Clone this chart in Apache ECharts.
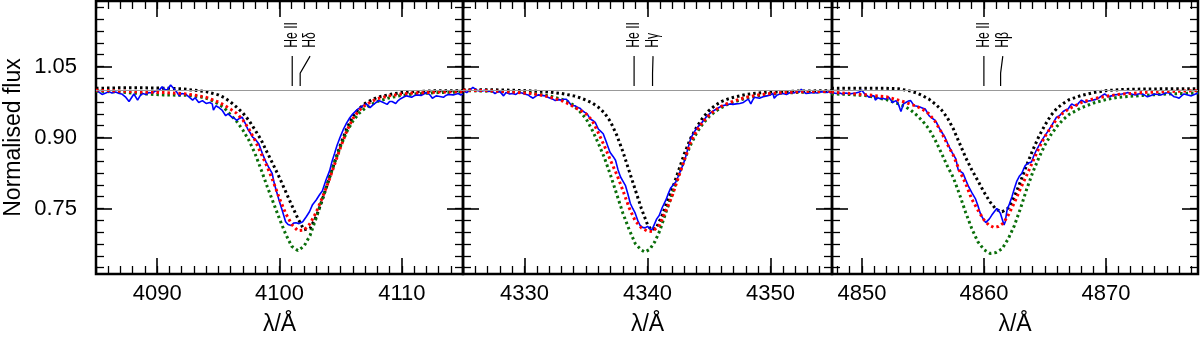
<!DOCTYPE html>
<html>
<head>
<meta charset="utf-8">
<script src="https://cdn.jsdelivr.net/npm/echarts@6.0.0/dist/echarts.min.js"></script>
<style>
  html, body { margin: 0; padding: 0; background: #fff; }
  #chart { width: 1200px; height: 341px; }
</style>
</head>
<body>
<div id="chart"></div>
<script>
// ---- data (wavelength in Angstrom, normalised flux) ----

// panel 1: H delta
const p1Obs = [[4085.0,1.000],[4085.3,0.995],[4085.5,0.991],[4085.8,0.994],[4086.05,0.997],[4086.3,0.994],[4086.6,0.996],[4086.9,0.993],[4087.1,0.992],[4087.4,0.986],[4087.7,0.976],[4087.9,0.984],[4088.1,0.992],[4088.4,0.979],[4088.6,0.988],[4088.8,0.993],[4089.1,0.991],[4089.3,0.995],[4089.6,0.994],[4089.9,0.999],[4090.1,0.998],[4090.4,1.007],[4090.6,1.002],[4090.8,1.000],[4091.1,1.011],[4091.4,1.002],[4091.6,0.996],[4091.8,0.988],[4092.0,0.993],[4092.3,0.992],[4092.6,0.986],[4092.9,0.979],[4093.1,0.984],[4093.4,0.974],[4093.7,0.978],[4094.0,0.972],[4094.3,0.974],[4094.5,0.971],[4094.6,0.958],[4094.8,0.967],[4095.0,0.964],[4095.3,0.958],[4095.6,0.946],[4095.8,0.950],[4096.1,0.943],[4096.3,0.941],[4096.5,0.936],[4096.7,0.940],[4096.95,0.943],[4097.2,0.930],[4097.4,0.918],[4097.6,0.910],[4097.8,0.901],[4098.0,0.897],[4098.3,0.887],[4098.6,0.866],[4098.9,0.848],[4099.1,0.838],[4099.4,0.824],[4099.6,0.800],[4099.8,0.782],[4100.0,0.764],[4100.2,0.748],[4100.5,0.722],[4100.7,0.716],[4100.95,0.714],[4101.15,0.719],[4101.35,0.720],[4101.6,0.718],[4101.9,0.722],[4102.2,0.733],[4102.45,0.743],[4102.7,0.758],[4103.0,0.768],[4103.3,0.780],[4103.5,0.787],[4103.8,0.810],[4104.1,0.830],[4104.3,0.850],[4104.5,0.866],[4104.7,0.883],[4104.9,0.897],[4105.2,0.916],[4105.45,0.929],[4105.7,0.940],[4106.0,0.950],[4106.4,0.960],[4106.8,0.967],[4107.1,0.971],[4107.4,0.963],[4107.6,0.968],[4107.8,0.972],[4108.1,0.978],[4108.4,0.975],[4108.8,0.970],[4109.0,0.976],[4109.2,0.976],[4109.5,0.972],[4109.7,0.978],[4109.9,0.982],[4110.2,0.986],[4110.4,0.988],[4110.8,0.985],[4111.0,0.988],[4111.2,0.990],[4111.6,0.989],[4111.8,0.992],[4112.0,0.995],[4112.3,0.990],[4112.5,0.983],[4112.8,0.988],[4113.0,0.987],[4113.4,0.985],[4113.6,0.989],[4113.8,0.991],[4114.2,0.990],[4114.6,0.993],[4114.8,0.990],[4115.0,0.992]];
const p1Black = [[4085,1.004],[4087,1.005],[4089,1.005],[4091,1.004],[4092,1.003],[4093,1.000],[4094,0.997],[4095,0.990],[4095.5,0.984],[4096,0.975],[4096.5,0.964],[4097,0.952],[4097.5,0.936],[4098,0.916],[4098.5,0.895],[4099,0.868],[4099.5,0.842],[4100,0.815],[4100.5,0.786],[4101,0.757],[4101.5,0.729],[4102,0.705],[4102.5,0.708],[4103,0.733],[4103.5,0.768],[4104,0.808],[4104.5,0.848],[4105,0.886],[4105.5,0.919],[4106,0.945],[4106.5,0.961],[4107,0.972],[4107.5,0.979],[4108,0.985],[4109,0.991],[4110,0.995],[4111,0.997],[4112,0.998],[4113,0.999],[4115,0.999]];
const p1Red = [[4085,1.000],[4087,0.998],[4089,0.996],[4090.5,0.995],[4092,0.993],[4093,0.990],[4094,0.985],[4095,0.975],[4095.5,0.968],[4096,0.960],[4096.5,0.951],[4097,0.937],[4097.5,0.918],[4098,0.894],[4098.5,0.866],[4099,0.838],[4099.5,0.806],[4100,0.771],[4100.5,0.740],[4101,0.716],[4101.5,0.703],[4102,0.704],[4102.5,0.718],[4103,0.742],[4103.5,0.773],[4104,0.806],[4104.5,0.843],[4105,0.880],[4105.5,0.914],[4106,0.940],[4106.5,0.957],[4107,0.968],[4107.5,0.976],[4108,0.982],[4109,0.988],[4110,0.992],[4111,0.994],[4113,0.996],[4115,0.997]];
const p1Green = [[4085,0.998],[4087,0.996],[4089,0.992],[4090.5,0.990],[4092.5,0.989],[4093.5,0.986],[4094,0.983],[4094.5,0.978],[4095,0.971],[4095.5,0.962],[4096,0.948],[4096.5,0.934],[4097,0.916],[4097.5,0.894],[4098,0.866],[4098.5,0.832],[4099,0.796],[4099.5,0.762],[4100,0.728],[4100.5,0.696],[4101,0.670],[4101.5,0.661],[4102,0.670],[4102.5,0.693],[4103,0.730],[4103.5,0.770],[4104,0.809],[4104.5,0.847],[4105,0.882],[4105.5,0.912],[4106,0.935],[4106.5,0.951],[4107,0.962],[4107.5,0.970],[4108,0.976],[4109,0.984],[4110,0.989],[4111,0.992],[4113,0.995],[4115,0.996]];

// panel 2: H gamma
const p2Obs = [[4325.0,0.999],[4325.3,0.995],[4325.6,1.001],[4325.8,1.006],[4326.0,1.002],[4326.2,0.999],[4326.5,0.998],[4326.8,1.000],[4327.1,0.997],[4327.3,0.999],[4327.6,0.993],[4327.8,0.996],[4328.0,0.997],[4328.3,0.988],[4328.5,0.995],[4328.8,0.992],[4329.0,0.993],[4329.3,0.991],[4329.5,0.995],[4329.8,0.994],[4330.0,0.992],[4330.3,0.990],[4330.5,0.986],[4330.7,0.983],[4330.9,0.987],[4331.1,0.990],[4331.4,0.989],[4331.7,0.988],[4331.9,0.985],[4332.1,0.983],[4332.3,0.981],[4332.5,0.978],[4332.8,0.980],[4333.0,0.979],[4333.2,0.981],[4333.4,0.981],[4333.6,0.975],[4333.85,0.967],[4334.1,0.967],[4334.3,0.964],[4334.5,0.962],[4334.7,0.957],[4334.9,0.953],[4335.1,0.950],[4335.35,0.939],[4335.55,0.936],[4335.75,0.932],[4336.0,0.918],[4336.2,0.913],[4336.4,0.908],[4336.7,0.887],[4336.95,0.869],[4337.2,0.860],[4337.4,0.852],[4337.6,0.832],[4337.8,0.817],[4338.0,0.808],[4338.2,0.799],[4338.4,0.781],[4338.6,0.761],[4338.8,0.750],[4339.0,0.740],[4339.2,0.725],[4339.4,0.714],[4339.6,0.710],[4339.8,0.709],[4340.0,0.712],[4340.15,0.708],[4340.35,0.704],[4340.55,0.716],[4340.75,0.728],[4340.95,0.735],[4341.2,0.752],[4341.5,0.768],[4341.7,0.782],[4341.9,0.794],[4342.1,0.800],[4342.3,0.806],[4342.5,0.818],[4342.7,0.831],[4342.9,0.843],[4343.1,0.859],[4343.3,0.878],[4343.5,0.897],[4343.7,0.907],[4343.95,0.918],[4344.15,0.924],[4344.35,0.929],[4344.55,0.936],[4344.76,0.943],[4344.95,0.948],[4345.17,0.953],[4345.4,0.957],[4345.6,0.960],[4345.85,0.964],[4346.1,0.967],[4346.4,0.969],[4346.7,0.971],[4346.95,0.970],[4347.2,0.971],[4347.5,0.972],[4347.8,0.974],[4348.0,0.978],[4348.2,0.981],[4348.4,0.971],[4348.55,0.979],[4348.7,0.985],[4348.9,0.984],[4349.1,0.983],[4349.4,0.986],[4349.7,0.988],[4350.0,0.990],[4350.2,0.993],[4350.3,0.983],[4350.5,0.989],[4350.75,0.992],[4351.0,0.993],[4351.3,0.991],[4351.6,0.995],[4351.9,0.994],[4352.1,0.997],[4352.35,0.996],[4352.5,1.002],[4352.7,0.996],[4352.9,0.993],[4353.2,0.994],[4353.5,0.995],[4353.8,0.994],[4354.0,0.997],[4354.3,0.996],[4354.6,0.995],[4354.8,0.997],[4355.0,0.992]];
const p2Black = [[4325,1.001],[4327,1.001],[4329,1.000],[4331,0.998],[4332,0.996],[4333,0.993],[4334,0.988],[4334.5,0.984],[4335,0.979],[4335.5,0.973],[4336,0.964],[4336.5,0.952],[4337,0.933],[4337.5,0.905],[4338,0.870],[4338.5,0.830],[4339,0.790],[4339.5,0.750],[4340,0.716],[4340.3,0.705],[4340.7,0.708],[4341.2,0.736],[4341.6,0.765],[4342,0.790],[4342.5,0.828],[4343,0.866],[4343.5,0.898],[4344,0.922],[4344.5,0.942],[4345,0.957],[4345.5,0.968],[4346,0.976],[4346.5,0.981],[4347,0.985],[4348,0.991],[4349,0.994],[4350,0.996],[4352,0.998],[4355,0.999]];
const p2Red = [[4325,1.000],[4327,0.999],[4329,0.996],[4330.5,0.993],[4331.5,0.989],[4332.5,0.982],[4333,0.978],[4333.5,0.972],[4334,0.965],[4334.5,0.958],[4335,0.950],[4335.5,0.936],[4336,0.910],[4336.5,0.882],[4337,0.851],[4337.5,0.822],[4338,0.788],[4338.5,0.752],[4339,0.724],[4339.5,0.709],[4340,0.702],[4340.4,0.701],[4341,0.716],[4341.5,0.746],[4342,0.776],[4342.5,0.815],[4343,0.853],[4343.5,0.889],[4344,0.915],[4344.5,0.933],[4345,0.947],[4345.5,0.958],[4346,0.966],[4346.5,0.972],[4347,0.977],[4347.5,0.981],[4348,0.985],[4349,0.990],[4350,0.993],[4351,0.995],[4353,0.997],[4355,0.997]];
const p2Green = [[4325,0.999],[4327,0.998],[4329,0.996],[4330.5,0.994],[4332,0.988],[4333,0.981],[4333.5,0.976],[4334,0.968],[4334.5,0.955],[4335,0.940],[4335.5,0.916],[4336,0.888],[4336.5,0.857],[4337,0.820],[4337.5,0.780],[4338,0.740],[4338.5,0.706],[4339,0.676],[4339.5,0.662],[4339.8,0.658],[4340.2,0.664],[4340.6,0.680],[4341,0.703],[4341.5,0.742],[4342,0.780],[4342.5,0.818],[4343,0.853],[4343.5,0.884],[4344,0.910],[4344.5,0.929],[4345,0.944],[4345.5,0.955],[4346,0.963],[4346.5,0.970],[4347,0.975],[4347.5,0.979],[4348,0.983],[4349,0.988],[4350,0.992],[4351,0.994],[4353,0.996],[4355,0.997]];

// panel 3: H beta
const p3Obs = [[4847.55,0.995],[4847.9,0.993],[4848.2,0.994],[4848.4,0.992],[4848.7,0.994],[4849.0,0.992],[4849.2,0.993],[4849.5,0.994],[4849.8,0.996],[4850.0,1.000],[4850.2,0.993],[4850.4,0.989],[4850.6,0.985],[4850.8,0.988],[4851.0,0.988],[4851.1,0.979],[4851.3,0.984],[4851.5,0.982],[4851.7,0.983],[4851.95,0.981],[4852.2,0.985],[4852.35,0.980],[4852.5,0.974],[4852.65,0.978],[4852.8,0.978],[4853.0,0.970],[4853.2,0.955],[4853.4,0.971],[4853.6,0.974],[4853.8,0.977],[4854.0,0.978],[4854.15,0.972],[4854.3,0.967],[4854.55,0.966],[4854.8,0.964],[4855.0,0.962],[4855.2,0.960],[4855.35,0.953],[4855.5,0.946],[4855.75,0.941],[4856.0,0.936],[4856.15,0.930],[4856.3,0.922],[4856.55,0.911],[4856.8,0.901],[4856.95,0.892],[4857.1,0.883],[4857.4,0.868],[4857.7,0.855],[4857.9,0.831],[4858.1,0.828],[4858.3,0.824],[4858.5,0.811],[4858.75,0.796],[4859.0,0.784],[4859.3,0.771],[4859.5,0.757],[4859.7,0.740],[4859.85,0.732],[4860.0,0.726],[4860.15,0.720],[4860.25,0.719],[4860.45,0.728],[4860.65,0.736],[4860.85,0.743],[4861.06,0.750],[4861.2,0.745],[4861.35,0.740],[4861.5,0.736],[4861.65,0.715],[4861.75,0.722],[4861.9,0.747],[4862.1,0.760],[4862.3,0.775],[4862.5,0.792],[4862.7,0.808],[4862.9,0.818],[4863.1,0.824],[4863.25,0.833],[4863.4,0.841],[4863.65,0.846],[4863.9,0.848],[4864.1,0.862],[4864.3,0.873],[4864.6,0.887],[4864.8,0.896],[4865.0,0.904],[4865.3,0.915],[4865.55,0.925],[4865.75,0.934],[4865.95,0.943],[4866.2,0.946],[4866.5,0.955],[4866.7,0.958],[4866.9,0.960],[4867.05,0.966],[4867.2,0.971],[4867.4,0.968],[4867.6,0.967],[4867.8,0.974],[4868.0,0.979],[4868.15,0.976],[4868.3,0.974],[4868.55,0.977],[4868.8,0.978],[4869.1,0.980],[4869.4,0.983],[4869.65,0.988],[4869.9,0.992],[4870.05,0.989],[4870.2,0.986],[4870.45,0.988],[4870.7,0.990],[4871.0,0.991],[4871.3,0.992],[4871.55,0.993],[4871.8,0.995],[4872.1,0.992],[4872.4,0.990],[4872.65,0.992],[4872.9,0.993],[4873.15,0.990],[4873.4,0.986],[4873.7,0.989],[4874.0,0.992],[4874.25,0.991],[4874.5,0.990],[4874.8,0.993],[4875.1,0.995],[4875.35,0.991],[4875.6,0.986],[4875.8,0.985],[4876.0,0.983],[4876.2,0.988],[4876.4,0.992],[4876.7,0.990],[4877.0,0.988],[4877.25,0.991],[4877.55,0.994]];
const p3Black = [[4847.5,1.004],[4850,1.004],[4852,1.004],[4853,1.003],[4854,0.998],[4854.5,0.994],[4855,0.988],[4855.5,0.981],[4856,0.971],[4856.5,0.959],[4857,0.942],[4857.5,0.918],[4858,0.888],[4858.5,0.858],[4859,0.832],[4859.5,0.809],[4860,0.785],[4860.5,0.764],[4861,0.748],[4861.5,0.743],[4862,0.751],[4862.5,0.775],[4863,0.807],[4863.5,0.841],[4864,0.873],[4864.5,0.902],[4865,0.926],[4865.5,0.947],[4866,0.962],[4866.5,0.972],[4867,0.980],[4868,0.989],[4869,0.995],[4870,0.999],[4871,1.001],[4872,1.002],[4875,1.003],[4877.6,1.003]];
const p3Red = [[4847.5,0.996],[4849,0.993],[4850.5,0.990],[4852,0.986],[4853,0.979],[4853.5,0.975],[4854,0.970],[4854.5,0.966],[4855,0.959],[4855.5,0.950],[4856,0.934],[4856.5,0.912],[4857,0.886],[4857.5,0.862],[4858,0.830],[4858.5,0.803],[4859,0.770],[4859.5,0.747],[4860,0.726],[4860.4,0.715],[4860.8,0.710],[4861.2,0.712],[4861.6,0.719],[4862,0.736],[4862.5,0.762],[4863,0.792],[4863.5,0.820],[4864,0.849],[4864.5,0.877],[4865,0.902],[4865.5,0.922],[4866,0.940],[4866.5,0.952],[4867,0.961],[4868,0.974],[4869,0.982],[4870,0.987],[4871,0.991],[4873,0.995],[4875,0.997],[4877.6,0.999]];
const p3Green = [[4847.5,0.992],[4849,0.991],[4850.5,0.988],[4852,0.980],[4853,0.971],[4853.5,0.966],[4854,0.958],[4854.5,0.947],[4855,0.934],[4855.5,0.918],[4856,0.895],[4856.5,0.868],[4857,0.840],[4857.5,0.815],[4858,0.780],[4858.5,0.742],[4859,0.708],[4859.5,0.680],[4860,0.663],[4860.5,0.655],[4861,0.657],[4861.5,0.665],[4862,0.686],[4862.5,0.714],[4863,0.750],[4863.5,0.790],[4864,0.826],[4864.5,0.857],[4865,0.884],[4865.5,0.906],[4866,0.924],[4866.5,0.938],[4867,0.949],[4868,0.963],[4869,0.973],[4870,0.980],[4871,0.985],[4873,0.989],[4875,0.992],[4877.6,0.994]];

// axis ranges and tick labels
const xRanges = [[4085, 4115], [4325, 4355], [4847.55, 4877.55]];
const xMajorTicks = [[4090, 4100, 4110], [4330, 4340, 4350], [4850, 4860, 4870]];
const yRange = [0.6115, 1.1885];
const yMajorTicks = [0.75, 0.90, 1.05];

// line identifications: [label wavelength, line wavelength]
const lineNames = [['He II', 'Hδ'], ['He II', 'Hγ'], ['He II', 'Hβ']];
const lineLabelAt = [[4101.04, 4102.5], [4338.91, 4340.45], [4860.0, 4861.55]];
const lineAt = [[4101.04, 4101.69], [4338.91, 4340.41], [4860.0, 4861.37]];

// ---- layout ----
const panelEdges = [96, 463, 832, 1198];
const FONT = "'Liberation Sans', Arial, sans-serif";
const DOT = [2.5, 3];
const LABEL_FLUX = 1.0895;   // where the rotated line labels start

const myChart = echarts.init(document.getElementById('chart'), null, { renderer: 'canvas' });

const obsSets = [p1Obs, p2Obs, p3Obs];
const blackSets = [p1Black, p2Black, p3Black];
const redSets = [p1Red, p2Red, p3Red];
const greenSets = [p1Green, p2Green, p3Green];

function minorX(r) {
  const out = [];
  for (let v = Math.ceil(r[0]); v <= r[1]; v++) out.push(v);
  return out;
}
const yMinor = [];
for (let k = 25; k <= 47; k++) yMinor.push(Math.round(k * 25) / 1000);

const grids = [], xAxes = [], yAxes = [], series = [];

function tickAxis(kind, gi, pos, ticks, len, labels, extra) {
  const base = {
    type: 'value',
    gridIndex: gi,
    position: pos,
    min: kind === 'x' ? xRanges[gi][0] : yRange[0],
    max: kind === 'x' ? xRanges[gi][1] : yRange[1],
    axisLine: { show: false },
    splitLine: { show: false },
    axisTick: { show: true, inside: true, length: len, customValues: ticks,
      lineStyle: { color: '#000', width: len > 10 ? 1.6 : 1.3 } },
    axisLabel: { show: false },
    silent: true
  };
  if (labels) {
    base.axisLabel = {
      show: true, customValues: labels, color: '#000', fontSize: 22, fontFamily: FONT,
      margin: kind === 'x' ? 9 : 19,
      formatter: kind === 'y' ? (v) => v.toFixed(2) : (v) => String(v)
    };
  }
  return Object.assign(base, extra || {});
}

for (let i = 0; i < 3; i++) {
  grids.push({
    left: panelEdges[i], top: 1,
    width: panelEdges[i + 1] - panelEdges[i], height: 275,
    show: true, borderColor: '#000', borderWidth: 2.5, backgroundColor: 'transparent'
  });
  const minors = minorX(xRanges[i]);
  xAxes.push(tickAxis('x', i, 'bottom', minors, 8));
  xAxes.push(tickAxis('x', i, 'bottom', xMajorTicks[i], 16, xMajorTicks[i], {
    name: 'λ/Å', nameLocation: 'middle', nameGap: 39,
    nameTextStyle: { color: '#000', fontSize: 23, fontFamily: FONT }
  }));
  xAxes.push(tickAxis('x', i, 'top', minors, 8));
  xAxes.push(tickAxis('x', i, 'top', xMajorTicks[i], 16));

  yAxes.push(tickAxis('y', i, 'left', yMinor, 8));
  yAxes.push(tickAxis('y', i, 'left', yMajorTicks, 16, i === 0 ? yMajorTicks : null, i === 0 ? {
    name: 'Normalised flux', nameLocation: 'middle', nameGap: 71,
    nameTextStyle: { color: '#000', fontSize: 23, fontFamily: FONT }
  } : null));
  yAxes.push(tickAxis('y', i, 'right', yMinor, 8));
  yAxes.push(tickAxis('y', i, 'right', yMajorTicks, 16));

  const ax = { xAxisIndex: 4 * i + 1, yAxisIndex: 4 * i + 1 };

  series.push(Object.assign({
    type: 'line', name: 'model A', data: blackSets[i], showSymbol: false,
    lineStyle: { color: '#000', width: 3, type: DOT, cap: 'butt' },
    markLine: {
      silent: true, symbol: 'none', label: { show: false },
      lineStyle: { color: '#999', width: 1, type: 'solid' },
      data: [{ yAxis: 1 }]
    }
  }, ax));
  series.push(Object.assign({
    type: 'line', name: 'model C', data: greenSets[i], showSymbol: false,
    lineStyle: { color: '#0a6e0a', width: 3, type: DOT, cap: 'butt' }
  }, ax));
  series.push(Object.assign({
    type: 'line', name: 'observed', data: obsSets[i], showSymbol: false,
    lineStyle: { color: '#0000ff', width: 1.6 }
  }, ax));
  series.push(Object.assign({
    type: 'line', name: 'model B', data: redSets[i], showSymbol: false,
    lineStyle: { color: '#ff0000', width: 3, type: DOT, cap: 'butt' }
  }, ax));

  // line identification ticks
  series.push(Object.assign({
    type: 'custom',
    silent: true,
    clip: false,
    data: lineAt[i].map((w, k) => [lineLabelAt[i][k], w, 1]),
    encode: { x: [0, 1], y: 2 },
    renderItem: function (params, api) {
      const lx = api.coord([api.value(0), 1.072]);
      const knee = api.coord([api.value(1), 1.036]);
      const bot = api.coord([api.value(1), 1.009]);
      return {
        type: 'polyline',
        shape: { points: [lx, knee, bot] },
        style: { stroke: '#000', lineWidth: 1.2, fill: null }
      };
    }
  }, ax));
}

var option = {
  animation: false,
  backgroundColor: '#fff',
  grid: grids,
  xAxis: xAxes,
  yAxis: yAxes,
  series: series
};

option && myChart.setOption(option);

// rotated line labels (tall narrow glyphs), placed through the axes
const labels = [];
for (let i = 0; i < 3; i++) {
  lineNames[i].forEach(function (name, k) {
    const p = myChart.convertToPixel({ xAxisIndex: 4 * i + 1, yAxisIndex: 4 * i + 1 },
      [lineLabelAt[i][k], LABEL_FLUX]);
    labels.push({
      type: 'text', x: p[0], y: p[1], rotation: Math.PI / 2,
      scaleX: 0.68, scaleY: 1, silent: true,
      style: { text: name, font: "18px 'Liberation Sans', Arial, sans-serif",
        fill: '#000', align: 'left', verticalAlign: 'middle' }
    });
  });
}
myChart.setOption({ graphic: labels });
</script>
</body>
</html>
